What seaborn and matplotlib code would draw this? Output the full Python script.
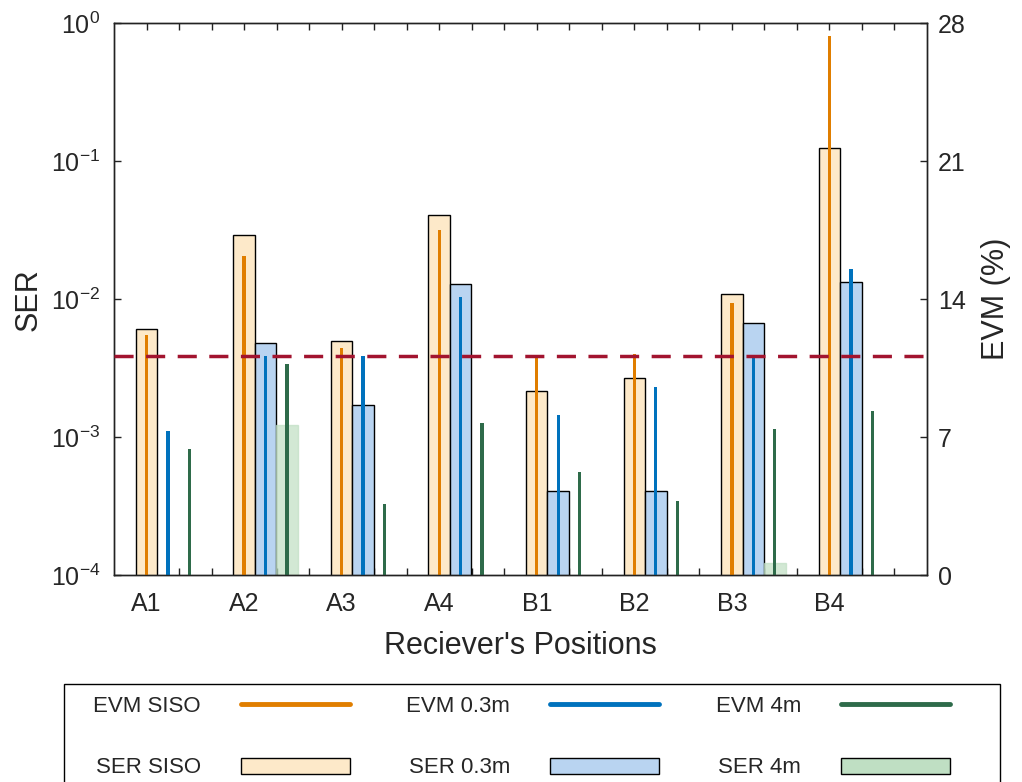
import numpy as np
import pandas as pd
import matplotlib
matplotlib.use("Agg")
import matplotlib.pyplot as plt
from matplotlib.lines import Line2D
from matplotlib.patches import Patch, Rectangle
from matplotlib.ticker import NullLocator, FixedLocator
import seaborn as sns

# Receiver positions
positions = ["A1", "A2", "A3", "A4", "B1", "B2", "B3", "B4"]

# Symbol error rate per configuration (NaN = no errors observed)
ser_siso = [6.1e-3, 2.9e-2, 5.0e-3, 4.05e-2, 2.15e-3, 2.7e-3, 1.09e-2, 1.25e-1]
ser_03m = [np.nan, 4.8e-3, 1.7e-3, 1.29e-2, 4.1e-4, 4.1e-4, 6.7e-3, 1.33e-2]
ser_4m = [np.nan, 1.23e-3, np.nan, np.nan, np.nan, np.nan, 1.23e-4, np.nan]

# Error vector magnitude (%) per configuration
evm_siso = [12.2, 16.2, 11.55, 17.5, 11.1, 11.25, 13.8, 27.35]
evm_03m = [7.3, 11.1, 11.1, 14.1, 8.15, 9.55, 11.1, 15.55]
evm_4m = [6.4, 10.7, 3.6, 7.75, 5.25, 3.75, 7.4, 8.35]

# Limit line on the EVM scale
evm_limit = 11.1

ser_names = ["SER SISO", "SER 0.3m", "SER 4m"]
evm_names = ["EVM SISO", "EVM 0.3m", "EVM 4m"]

ser_fill = {"SER SISO": "#FDE9C9", "SER 0.3m": "#B9D4F1", "SER 4m": "#BFDFC3"}
evm_color = {"EVM SISO": "#E07E00", "EVM 0.3m": "#0072BD", "EVM 4m": "#2E6B4A"}
limit_color = "#A2142F"
ink = "#222222"

sns.set_theme(style="white")
plt.rcParams["font.family"] = ["Liberation Sans", "DejaVu Sans"]
plt.rcParams["axes.edgecolor"] = ink
plt.rcParams["axes.linewidth"] = 1.0
plt.rcParams["axes.unicode_minus"] = False

ser_df = pd.DataFrame({
    "pos": positions * 3,
    "series": [n for n in ser_names for _ in positions],
    "SER": ser_siso + ser_03m + ser_4m,
})
evm_df = pd.DataFrame({
    "pos": positions * 3,
    "series": [n for n in evm_names for _ in positions],
    "EVM": evm_siso + evm_03m + evm_4m,
})

W, H = 1022, 782
fig = plt.figure(figsize=(W / 100, H / 100), dpi=100)
ax = fig.add_axes([114 / W, 1 - 575.3 / H, (927 - 114) / W, 552 / H])
ax.set_yscale("log")

group_width = 0.66
sns.barplot(data=ser_df, x="pos", y="SER", hue="series", hue_order=ser_names,
            order=positions, palette=ser_fill, width=group_width, saturation=1,
            edgecolor="black", linewidth=1.0, errorbar=None, legend=False, ax=ax)

# the 4 m bars are drawn translucent without an outline
for bar in ax.containers[2]:
    bar.set_edgecolor(ser_fill["SER 4m"])
    bar.set_alpha(0.7)

ax2 = ax.twinx()
sns.barplot(data=evm_df, x="pos", y="EVM", hue="series", hue_order=evm_names,
            order=positions, palette=evm_color, width=group_width, gap=0.845,
            saturation=1, linewidth=0, errorbar=None, legend=False, ax=ax2)
ax2.axhline(evm_limit, color=limit_color, lw=2.5, linestyle=(0, (5.5, 3.6)), zorder=5)

# x axis: one label per position, minor ticks every third of a slot
bar_w = group_width / 3
p0 = -bar_w
major = np.arange(len(positions)) + p0
minor = [p0 + j / 3 for j in range(3 * len(positions)) if j % 3]
ax.set_xticks(major, labels=positions)
ax.xaxis.set_minor_locator(FixedLocator(minor))
ax.set_xlim(p0 - 1 / 3, p0 + len(positions))
ax.set_xlabel("Reciever's Positions", fontsize=22, labelpad=11)
ax.set_axisbelow(True)

ax.set_ylim(1e-4, 1)
ax.yaxis.set_minor_locator(NullLocator())
ax.set_ylabel("SER", fontsize=22)
ax.yaxis.set_label_coords(-0.086, 0.5)

ax2.set_ylim(0, 28)
ax2.set_yticks([0, 7, 14, 21, 28])
ax2.set_ylabel("EVM (%)", fontsize=22)
ax2.yaxis.set_label_coords(1.066, 0.5)
ax2.set_xlabel("")

ax.tick_params(axis="x", which="both", direction="in", top=True, bottom=True,
               length=5, width=1, labelsize=18, pad=12, color=ink)
ax.tick_params(axis="y", which="both", direction="in", left=True, right=False,
               length=5, width=1, labelsize=18, pad=10, color=ink)
ax2.tick_params(axis="y", direction="in", right=True, length=5, width=1,
                labelsize=18, pad=8, color=ink)
for a in (ax, ax2):
    for s in a.spines.values():
        s.set_visible(True)
        s.set_color(ink)
        s.set_linewidth(1.0)

# legend: frame box running off the bottom edge, entries laid out inside it
fig.patches.append(Rectangle((64 / W, -0.05), (1000 - 64) / W, (H - 684) / H + 0.05,
                             transform=fig.transFigure, facecolor="white",
                             edgecolor="black", lw=1.0, zorder=0))
handles = [
    Line2D([], [], color=evm_color["EVM SISO"], lw=3.5),
    Patch(facecolor=ser_fill["SER SISO"], edgecolor="black", lw=1.0),
    Line2D([], [], color=evm_color["EVM 0.3m"], lw=3.5),
    Patch(facecolor=ser_fill["SER 0.3m"], edgecolor="black", lw=1.0),
    Line2D([], [], color=evm_color["EVM 4m"], lw=3.5),
    Patch(facecolor=ser_fill["SER 4m"], edgecolor="black", lw=1.0),
]
labels = ["EVM SISO", "SER SISO", "EVM 0.3m", "SER 0.3m", "EVM 4m", "SER 4m"]
leg = fig.legend(handles=handles, labels=labels, ncol=3, markerfirst=False,
                 loc="upper left",
                 bbox_to_anchor=(93 / W, 1 - 696 / H, (950 - 93) / W, 0),
                 mode="expand", frameon=False,
                 fontsize=16, handlelength=4.9, handleheight=0.72, labelspacing=1.82,
                 borderpad=0, handletextpad=1.8, columnspacing=2.0,
                 borderaxespad=0)

fig.savefig("out.png", dpi=100, facecolor="white")
